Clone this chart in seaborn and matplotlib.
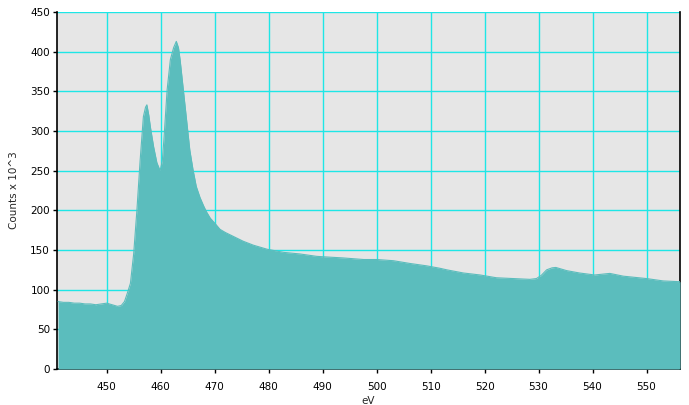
import matplotlib
matplotlib.use("Agg")
import matplotlib.pyplot as plt
import seaborn as sns
import pandas as pd

energy_ev = [441.0, 442.0, 443.0, 444.0, 445.0, 446.0, 447.0, 448.0, 449.0, 450.0,
             451.0, 452.0, 452.7, 453.3, 453.8, 454.4, 455.0, 455.6, 456.2, 456.8,
             457.2, 457.45, 457.8, 458.1, 458.7, 459.3, 459.9, 460.3, 460.6, 461.2,
             461.8, 462.4, 462.9, 463.3, 463.6, 464.2, 464.8, 465.4, 466.0, 466.6,
             467.3, 468.0, 468.5, 469.2, 470.0, 471.0, 472.0, 473.5, 475.3, 477.2,
             479.7, 482.8, 485.8, 488.9, 490.0, 493.8, 497.6, 500.0, 503.1, 506.2,
             509.3, 511.7, 513.0, 516.1, 519.2, 522.2, 525.3, 528.4, 529.6, 530.5,
             531.5, 532.5, 533.2, 535.2, 537.6, 540.4, 543.2, 545.7, 550.0, 553.1,
             556.2]
counts_k = [85, 84, 84, 83, 83, 82, 82, 81, 82, 83,
            81, 79, 80, 85, 95, 108, 145, 200, 263, 318,
            330, 333, 320, 305, 280, 260, 250, 262, 289, 352,
            390, 405, 413, 405, 390, 352, 314, 276, 251, 230,
            216, 205, 198, 190, 184, 176, 172, 167, 161, 156,
            151, 147, 145, 142, 141.5, 140, 138, 138, 136.5, 133,
            130, 127, 125, 121, 118.5, 115, 114, 113, 114, 118,
            125, 127.5, 128, 124, 121, 118.5, 120.5, 117, 114, 111,
            110]

x_ticks = [450, 460, 470, 480, 490, 500, 510, 520, 530, 540, 550]
y_ticks = [0, 50, 100, 150, 200, 250, 300, 350, 400, 450]

df = pd.DataFrame({"eV": energy_ev, "counts": counts_k})

sns.set_style("white")
plt.rcParams["font.family"] = ["DejaVu Sans"]

fill_color = "#5BBDBD"
grid_color = "#1EE6E6"

fig = plt.figure(figsize=(6.89, 4.05), dpi=100)
ax = fig.add_axes([57 / 689, 1 - 369 / 405, 623 / 689, 357 / 405])
ax.set_facecolor("#E6E6E6")

ax.fill_between(df["eV"], 0, df["counts"], color=fill_color, linewidth=0, zorder=3)
sns.lineplot(data=df, x="eV", y="counts", color=fill_color, linewidth=0.8, ax=ax, zorder=3)

ax.set_xlim(440.8, 556.2)
ax.set_ylim(0, 450)
ax.set_xticks(x_ticks)
ax.set_yticks(y_ticks)
ax.grid(True, color=grid_color, linewidth=1.0, zorder=1)
ax.set_axisbelow(True)

for side in ["left", "bottom", "right"]:
    ax.spines[side].set_visible(True)
    ax.spines[side].set_color("black")
    ax.spines[side].set_linewidth(1.2)
ax.spines["top"].set_visible(False)

ax.tick_params(axis="both", direction="out", length=3, width=1, labelsize=7.5,
               colors="black", pad=2)
ax.tick_params(axis="x", bottom=True, pad=6)
ax.tick_params(axis="y", left=True)

ax.set_xlabel("eV", fontsize=7.5, labelpad=3)
ax.set_ylabel("Counts x 10^3", fontsize=7.5, labelpad=8)

fig.savefig("out.png", dpi=100)
